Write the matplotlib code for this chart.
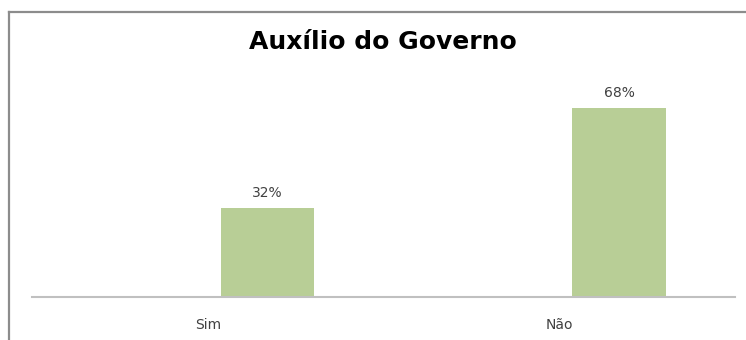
import matplotlib.pyplot as plt
from matplotlib.lines import Line2D

# data
categories = ['Sim', 'Não']
values = [32, 68]
labels = ['32%', '68%']

plt.rcParams['font.family'] = ['DejaVu Sans']

W, H = 746, 340
fig = plt.figure(figsize=(W / 100, H / 100), dpi=100)
fig.patch.set_facecolor('white')

# plot area (pixel-based placement)
left, right = 32, 735
base, top = 297, 75
ax = fig.add_axes([left / W, 1 - base / H, (right - left) / W, (base - top) / H])

x = list(range(len(categories)))
offset = 0.17
bars = ax.bar([i + offset for i in x], values, width=0.267, color='#b8ce96')

for b, lab in zip(bars, labels):
    ax.annotate(lab, (b.get_x() + b.get_width() / 2, b.get_height()),
                xytext=(0, 6), textcoords='offset points',
                ha='center', va='bottom', fontsize=10, color='#404040')

ax.set_xlim(-0.5, 1.5)
ax.set_ylim(0, 80)
ax.set_xticks(x)
ax.set_xticklabels(categories, fontsize=10, color='#404040')
ax.tick_params(axis='x', length=0, pad=15)
ax.set_yticks([])
for s in ['top', 'right', 'left']:
    ax.spines[s].set_visible(False)
ax.spines['bottom'].set_color('#c0c0c0')
ax.spines['bottom'].set_linewidth(1.5)

fig.text(383 / W, 1 - 49 / H, 'Auxílio do Governo', ha='center', va='baseline',
         fontsize=18, fontweight='bold', color='black')

# chart border (left and top edges visible)
fig.add_artist(Line2D([9 / W, 9 / W], [0, 1 - 12 / H], color='#8c8c8c', lw=1.6))
fig.add_artist(Line2D([9 / W, 1], [1 - 12 / H, 1 - 12 / H], color='#8c8c8c', lw=1.6))

fig.savefig('out.png', dpi=100)
